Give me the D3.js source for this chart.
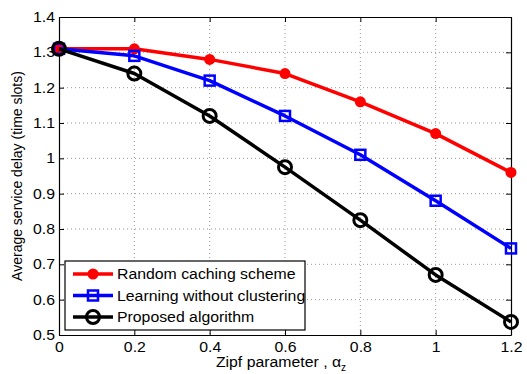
<!DOCTYPE html>
<html>
<head>
<meta charset="utf-8">
<script src="https://cdn.jsdelivr.net/npm/d3@7"></script>
<style>
  body { margin: 0; background: #fff; }
  text { font-family: "Liberation Sans", Arial, sans-serif; }
</style>
</head>
<body>
<script>
var w = 527;
var h = 374;

var zipf = [0, 0.2, 0.4, 0.6, 0.8, 1, 1.2];
var randomCaching = [1.31, 1.31, 1.28, 1.24, 1.16, 1.07, 0.96];
var learningNoCluster = [1.31, 1.29, 1.22, 1.12, 1.01, 0.88, 0.745];
var proposed = [1.31, 1.24, 1.12, 0.975, 0.825, 0.67, 0.537];
var xTicks = [0, 0.2, 0.4, 0.6, 0.8, 1, 1.2];
var yTicks = [0.5, 0.6, 0.7, 0.8, 0.9, 1, 1.1, 1.2, 1.3, 1.4];
var seriesNames = ["Random caching scheme", "Learning without clustering", "Proposed algorithm"];

var margin = { top: 17, right: 16, bottom: 39, left: 59 };
var width = w - margin.left - margin.right;
var height = h - margin.top - margin.bottom;

// the original figure is a bit wider than tall, so horizontal text is stretched
var stretch = 1.13;

var svg = d3.select("body")
  .append("svg")
  .attr("width", w)
  .attr("height", h);

var g = svg.append("g")
  .attr("transform", "translate(" + margin.left + "," + margin.top + ")");

var x = d3.scaleLinear().domain([0, 1.2]).range([0, width]);
var y = d3.scaleLinear().domain([0.5, 1.4]).range([height, 0]);

// dotted grid
g.selectAll(".gx").data(xTicks.slice(1, -1)).enter()
  .append("line")
  .attr("x1", d => x(d)).attr("x2", d => x(d))
  .attr("y1", 0).attr("y2", height)
  .attr("stroke", "#999").attr("stroke-width", 1)
  .attr("stroke-dasharray", "1,3");
g.selectAll(".gy").data(yTicks.slice(1, -1)).enter()
  .append("line")
  .attr("x1", 0).attr("x2", width)
  .attr("y1", d => y(d)).attr("y2", d => y(d))
  .attr("stroke", "#999").attr("stroke-width", 1)
  .attr("stroke-dasharray", "1,3");

// axes, ticks inward
var fmt = d => String(d);
g.append("g").attr("transform", "translate(0," + height + ")")
  .call(d3.axisBottom(x).tickValues(xTicks).tickFormat(fmt).tickSizeInner(-5).tickSizeOuter(0).tickPadding(7));
g.append("g")
  .call(d3.axisTop(x).tickValues(xTicks).tickFormat("").tickSizeInner(-5).tickSizeOuter(0));
g.append("g")
  .call(d3.axisLeft(y).tickValues(yTicks).tickFormat(fmt).tickSizeInner(-5).tickSizeOuter(0).tickPadding(4));
g.append("g").attr("transform", "translate(" + width + ",0)")
  .call(d3.axisRight(y).tickValues(yTicks).tickFormat("").tickSizeInner(-5).tickSizeOuter(0));

g.selectAll(".domain").attr("stroke", "#000").attr("stroke-width", 1.2);
g.selectAll(".tick line").attr("stroke", "#000");
g.selectAll(".tick text").attr("font-size", 14).attr("fill", "#000")
  .attr("font-family", "'Liberation Sans', Arial, sans-serif");

// series
var series = [
  { values: randomCaching, color: "#ff0000", marker: "dot" },
  { values: learningNoCluster, color: "#0000ff", marker: "square" },
  { values: proposed, color: "#000000", marker: "circle" }
];

var line = d3.line().x(d => x(d[0])).y(d => y(d[1]));

function drawMarker(sel, s, cx, cy) {
  if (s.marker === "dot") {
    sel.append("circle").attr("cx", cx).attr("cy", cy).attr("r", 5.5)
      .attr("fill", s.color);
  } else if (s.marker === "square") {
    sel.append("rect").attr("x", cx - 5).attr("y", cy - 5)
      .attr("width", 10).attr("height", 10)
      .attr("fill", "none").attr("stroke", s.color).attr("stroke-width", 2.5);
  } else {
    sel.append("circle").attr("cx", cx).attr("cy", cy).attr("r", 6.5)
      .attr("fill", "none").attr("stroke", s.color).attr("stroke-width", 3);
  }
}

series.forEach(function(s) {
  var pts = zipf.map((z, i) => [z, s.values[i]]);
  g.append("path").datum(pts)
    .attr("d", line)
    .attr("fill", "none")
    .attr("stroke", s.color)
    .attr("stroke-width", 3.5)
    .attr("stroke-linejoin", "round");
  pts.forEach(function(p) { drawMarker(g, s, x(p[0]), y(p[1])); });
});

// legend
var lg = svg.append("g").attr("transform", "translate(65,261)");
lg.append("rect").attr("width", 240).attr("height", 69)
  .attr("fill", "#fff").attr("stroke", "#000").attr("stroke-width", 1.2);
series.forEach(function(s, i) {
  var cy = 13 + i * 21.5;
  lg.append("line").attr("x1", 8).attr("x2", 48).attr("y1", cy).attr("y2", cy)
    .attr("stroke", s.color).attr("stroke-width", 3.5);
  drawMarker(lg, s, 28, cy);
  lg.append("text").attr("class", "wide").attr("x", 52).attr("y", cy + 5)
    .attr("font-size", 14).text(seriesNames[i]);
});

// axis titles
var xl = svg.append("text")
  .attr("x", margin.left + width / 2 - 4)
  .attr("y", 367)
  .attr("text-anchor", "middle")
  .attr("font-size", 14);
xl.append("tspan").attr("class", "wide").text("Zipf parameter , \u03b1");
xl.append("tspan").attr("font-size", 10).attr("dy", 4).text("z");

svg.append("text")
  .attr("transform", "translate(22," + (margin.top + height / 2) + ") rotate(-90)")
  .attr("text-anchor", "middle")
  .attr("font-size", 14)
  .text("Average service delay (time slots)");

// widen horizontal texts
svg.selectAll(".tick text, text.wide, tspan.wide").each(function() {
  var len = this.getComputedTextLength();
  if (len > 0) {
    d3.select(this).attr("textLength", len * stretch).attr("lengthAdjust", "spacingAndGlyphs");
  }
});
</script>
</body>
</html>
